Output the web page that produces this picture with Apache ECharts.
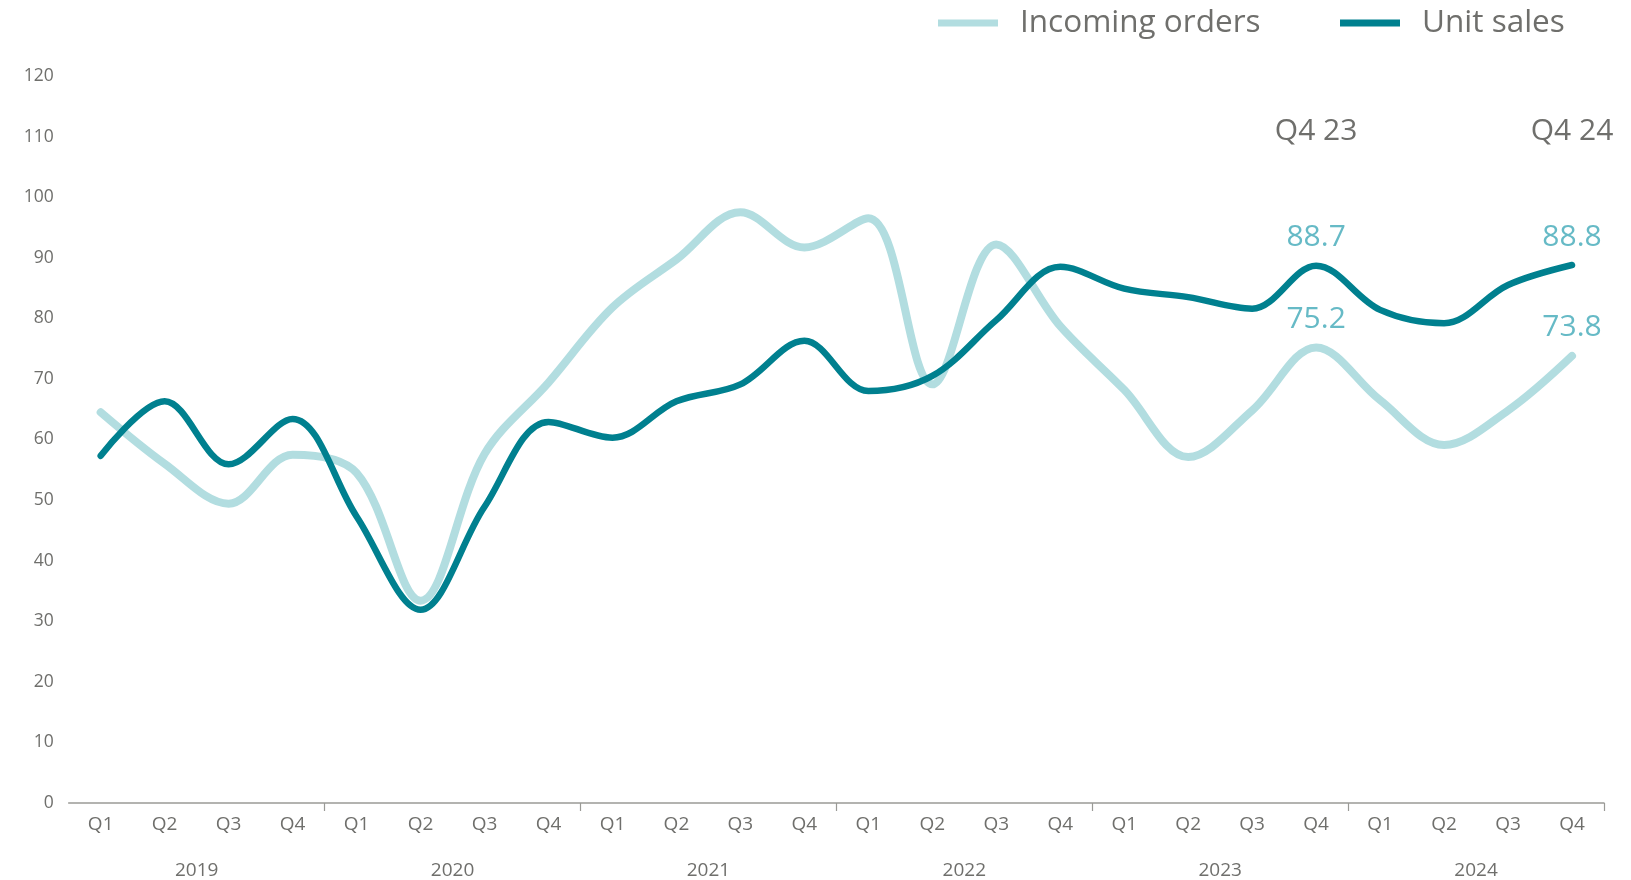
<!DOCTYPE html>
<html>
<head>
<meta charset="utf-8">
<script src="https://cdn.jsdelivr.net/npm/echarts@6/dist/echarts.min.js"></script>
<style>html,body{margin:0;padding:0;background:#fff;}#c{width:1631px;height:880px;}</style>
</head>
<body>
<div id="c"></div>
<script>
const quarters = ['Q1','Q2','Q3','Q4','Q1','Q2','Q3','Q4','Q1','Q2','Q3','Q4','Q1','Q2','Q3','Q4','Q1','Q2','Q3','Q4','Q1','Q2','Q3','Q4'];
const years = ['2019','2020','2021','2022','2023','2024'];
const incomingOrders = [64.5,56,49.4,57.5, 54.5,33.4,57.6,69.4, 81.8,89.7,97.5,91.7, 96.5,69.1,92.2,78.7, 68.2,57.1,64.8,75.2, 66.5,59.1,64.8,73.8];
const unitSales = [57.3,66.3,55.9,63.4, 47.3,31.9,48.9,62.9, 60.3,66.3,69.1,76.3, 68.0,70.5,79.7,88.5, 84.9,83.5,81.6,88.7, 81.4,79.2,85.5,88.8];
const labelledIdx = [19, 23];
const annotations = [{idx: 19, text: 'Q4 23', y: 110.9}, {idx: 23, text: 'Q4 24', y: 110.9}];

const FONT = '"Open Sans", sans-serif';
const TXT = '#6f6f6c';
const LIGHT = '#b2dde0';
const DARK = '#00808f';
const LBL = '#66bac6';

function withLabels(arr) {
  return arr.map((v, i) => labelledIdx.includes(i)
    ? {value: v, label: {show: true, position: 'top', distance: 13, color: LBL, fontSize: 30, fontFamily: FONT, formatter: p => p.value.toFixed(1)}}
    : v);
}

const legendText = {fontSize: 31.5, color: TXT, fontFamily: FONT, padding: [0, 0, 0, 17]};
const chart = echarts.init(document.getElementById('c'), null, {renderer: 'canvas'});
chart.setOption({
  animation: false,
  backgroundColor: '#fff',
  legend: [{
    left: 933, top: 2, icon: 'rect', itemWidth: 60, itemHeight: 7,
    textStyle: legendText, data: ['Incoming orders']
  }, {
    left: 1335, top: 2, icon: 'rect', itemWidth: 60, itemHeight: 7,
    textStyle: legendText, data: ['Unit sales']
  }],
  grid: {left: 68.7, right: 27, top: 76, bottom: 76},
  xAxis: [{
    type: 'category', data: quarters, boundaryGap: true,
    axisLine: {lineStyle: {color: '#9a9a96', width: 1.5}},
    axisTick: {show: true, length: 8, interval: (i) => i % 4 === 0 && i > 0, lineStyle: {color: '#9a9a96', width: 1.2}},
    axisLabel: {interval: 0, fontSize: 19, color: TXT, fontFamily: FONT, margin: 12}
  }, {
    type: 'category', data: years, position: 'bottom', offset: 47, boundaryGap: true,
    axisLine: {show: false}, axisTick: {show: false},
    axisLabel: {interval: 0, fontSize: 19, color: TXT, fontFamily: FONT, margin: 11}
  }],
  yAxis: {
    type: 'value', min: 0, max: 120, interval: 10,
    axisLine: {show: false}, axisTick: {show: false}, splitLine: {show: false},
    axisLabel: {fontSize: 17.5, color: TXT, fontFamily: FONT, margin: 15}
  },
  series: [{
    name: 'Incoming orders', type: 'line', smooth: 0.35,
    symbol: 'circle', symbolSize: 0, showSymbol: true,
    data: withLabels(incomingOrders),
    itemStyle: {color: LIGHT},
    lineStyle: {color: LIGHT, width: 8, cap: 'round', join: 'round'},
    z: 2
  }, {
    name: 'Unit sales', type: 'line', smooth: 0.35,
    symbol: 'circle', symbolSize: 0, showSymbol: true,
    data: withLabels(unitSales),
    itemStyle: {color: DARK},
    lineStyle: {color: DARK, width: 6.5, cap: 'round', join: 'round'},
    z: 3,
    markPoint: {
      symbol: 'circle', symbolSize: 0,
      label: {show: true, position: 'inside', color: TXT, fontSize: 30, fontFamily: FONT, formatter: p => p.name},
      data: annotations.map(a => ({name: a.text, coord: [a.idx, a.y]}))
    }
  }]
});
</script>
</body>
</html>
